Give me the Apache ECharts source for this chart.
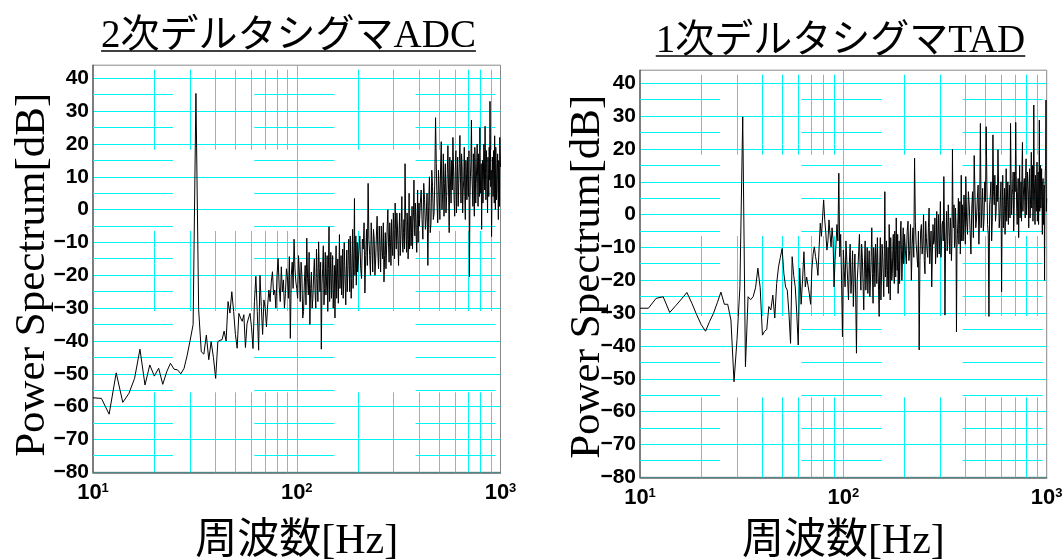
<!DOCTYPE html>
<html>
<head>
<meta charset="utf-8">
<script src="https://cdn.jsdelivr.net/npm/echarts@6/dist/echarts.min.js"></script>
<style>
  html, body { margin: 0; padding: 0; background: #fff; }
  #chart { width: 1064px; height: 559px; }
</style>
</head>
<body>
<div id="chart"></div>
<script>
// Power spectra of two delta-sigma converters, frequency bins in four ranges:
// 10–99 Hz every 1 Hz, 100–199 Hz every 1 Hz, 200–398 Hz every 2 Hz, 400–1000 Hz every 4 Hz.
const segStarts = [10, 100, 200, 400];
const segSteps = [1, 1, 2, 4];

// 2nd-order delta-sigma ADC [dB]
const adcLow = [
  -57.3, -57.5, -62.3, -49.7, -58.7, -56, -51.4, -42.5, -53.4, -47.3,
  -50.7, -48.3, -53.2, -49.4, -46.8, -48.6, -48.8, -50, -48.3, -44.3,
  -39.7, -35, 35.4, -30.5, -43.3, -44, -38.2, -45.7, -40.2, -45,
  -51.4, -40.2, -39.8, -39.6, -37, -40, -28, -31.5, -25, -31,
  -38, -42.2, -31.6, -33, -34, -32, -42, -34.8, -33, -31.6,
  -36, -42.3, -28, -20.3, -31, -42.8, -20, -29.5, -38, -27.5,
  -30, -35.7, -29, -24.5, -28, -22, -18.9, -26, -24.5, -30,
  -20, -14.8, -23.5, -28, -17.4, -25, -21.4, -30, -25.5, -18,
  -20.4, -27, -14.3, -39.2, -20, -16, -24, -9, -18, -22
];
const adcMid = [
  -24, -27, -14, -19, -28, -16, -20, -33, -31, -22,
  -17, -29, -8.7, -21, -26, -13, -35, -24, -19, -30,
  -27, -20, -15, -25, -30, -12, -21, -28, -9.8, -18,
  -25, -16, -42.5, -23, -18, -11, -29, -24, -13, -26,
  -22, -14, -31, -18, -5.2, -28, -20, -13, -27, -21,
  -14, -30, -24, -17, -33, -19, -11, -27, -21, -15,
  -28.5, -20, -7.6, -24, -19, -14, -26, -20, -12, -27,
  -22, -10, -17, -23, -29, -19, -12.3, -25, -20, -14,
  -9, -17, -25, -8, -15, -27, -21, -13, -6, -24,
  -18, -11, 3.4, -20, -16, -8, -23, -14, -10, -19
];
const adcHigh = [
  -17, -12, -8, -18, -21, -9, -12, -4, -25.4, -14,
  -6, -17, 8, -9, -14, -20, -4, -11, -19, -6,
  -9, -20, -15, -8, -2, -13, -18, -5, -11, -19,
  -5, -12, -15, -4, -22, -14, -7, -18, -12, -5,
  0, -10, -16, -4, -9, -17, -3, -11, -14, -1,
  -7, -15, 2, -6, -12, -1, -5, -11, -17, -6,
  -1, -14, -9, -4, 4, -10, -13, -7, -3, -12,
  14, 0, -8, -13, -1, -5, -15, -9, 5, -12,
  -6, -2, -11, -7, 1, -12, -4, -1, 9, -6,
  -8, 2, -2, -9, -13, -3, 6, -10, -3, 2
];
const adcTop = [
  -5, 2, 6, -3, -9, 8, 3, -6, -2, 5,
  -17, 1, 10, -7, -4, 12, 7, -3, -1, 9,
  28, 14, 2, -4, 12, 6, -3, 13, 20.7, 0,
  5, 17, -2, 8, 14, -1, 4, 11, 19.5, 6,
  -7, 16, 9, 2, 15, 6, 22, 13, 3, -2,
  12, 18, -1, 7, 16, 1, 8, 14, 22.6, 10,
  2, 17, 13, -1, 6, 9, 19, 4, -3, 15,
  11, 3, 16, 8, 4, 18, -20.4, 3, 10, 15,
  27.3, 11, 6, 1, 17, 9, -2, 19, 14, 2,
  8, 13, 20, 10, 1, 17, 12, 4, 25, 10,
  5, 14, -6, 8, 15, 2, 9, 20, 18, 6,
  25.4, 11, 3, 18, 14, 6, -1, 16, 11, 4,
  19, 9, 33, 21, 7, 12, -8.2, 5, 16, 9,
  4, 18, 12, 2, 22.5, 11, 0, 19, 14, 3,
  6, 12, 17, 8, -3, 15, 10, 1, 22, 17,
  13
];

// 1st-order delta-sigma TAD [dB]
const tadLow = [
  -28.5, -28.5, -25.5, -25, -29.8, -27.7, -25.7, -23.7, -27, -30.5,
  -33.5, -35.5, -32.5, -30, -26.8, -23.6, -27.3, -27.3, -32.1, -50.9,
  -38, -22, 29.8, -46.3, -25, -25.9, -25, -22.3, -16.3, -22.3,
  -36.7, -35.5, -35, -28, -29, -24.5, -31.5, -21, -15.9, -13,
  -10.3, -18, -22, -23, -30, -39.2, -12.8, -18.5, -22, -30,
  -39.7, -16.3, -27.3, -20, -11.3, -22, -19, -21.5, -24, -27.3,
  -16.8, -12, -9.8, -12.8, -15, -18.5, -10, -2.6, -6.6, -1,
  4.5, -1.6, -5.6, -10.8, -8, -1.6, -6, -9.8, -4, -7.6,
  -22, -14, -9, -3, -8, 12.6, -12.8, -6, -20, -37.2
];
const tadMid = [
  -10.8, -17, -22, -8, -14, -20, -26, -15, -9, -24,
  -19, -11, -28, -18, -12, -25, -42.2, -20, -16, -11,
  -6, -17, -23, -9, -13, -21, -29, -15, -8, -23,
  -18, -10, -24, -16, -11, -25, -20, -13, -4, -18,
  -27, -10, -14, -22, -9, -13, -21, -7, -16, -23,
  -31, -15, -7, -26, -19, -9, -12, -18, -25, -13,
  7, -19, -15, -8, -22, -17, -10, -24, -3, -12,
  -26, -7, -13, -20, -18, -11, -6, -15, -21, -5,
  -11, -19, -1, -12, -17, -6, -24, -16, -8, -21,
  -14, -5, -2, -11, -20, -15, -9, -4, -15, -12
];
const tadHigh = [
  -6, -11, -15, -5, -2, -14, -11, -3, -20, -9,
  -4, -13, 17.2, -2, -9, -12, -16, -5, -41.2, -14,
  -5, -3, -12, -9, 0, -14, -18, -2, -7, -11,
  -13, -4, 2, -15, -10, -5, -22, -12, -3, -9,
  -8, -1, -15, -10, 1, -13, -6, 0, -12, -7,
  4, -13, -9, -3, -2, -8, 11.6, -2, -30.6, -10,
  -5, 1, -11, -9, 3, -2, -7, -12, -1, -4,
  -14, -8, 19.9, -1, -4, 3, -10, -8, 2, -3,
  -35.7, -10, -6, -1, 5, -9, -3, 4, -12, -5,
  12, -8, -1, 3, -8, -5, 6, 1, -4, -9
];
const tadTop = [
  11.6, -2, -6, 7, 3, -5, -12, 2, 7, -7,
  18, 6, -4, -1, 5, 9, -9, 1, 27.8, -4,
  2, 8, -5, -1, 10, 4, 26.8, 9, -3, -6,
  -31, 3, 6, 10, -8, -2, 24.3, 7, 3, 12,
  -2, 1, 9, 4, 19.8, 9, -4, -1, 5, 10,
  -23.5, 2, 12, -4, 1, 8, -6, 3, 14, -2,
  4, 10, -3, 5, 9, -1, 27.8, 11, 0, 6,
  8, 13, -5, 2, 13, 7, 28.1, 12, 2, -3,
  7, 11, -7, 5, 15, -1, 4, 10, -2, 14,
  22, 1, 6, 9, 11, 4, -1, 12, 17, 0,
  5, 13, 9, 6, -4, 10, 14, -1, 3, 8,
  19, 2, 8, 15, -2, 4, 33.4, 11, 6, -3,
  12, 10, 1, 5, 16, -2, 7, 13, -3, 6,
  28.8, 1, 9, 15, 2, 7, 14, 4, -6, 10,
  11, -3, 4, 9, -20, 6, 13, 15, 34.9, 1,
  5
];

// Axis ranges and grid reference values
const freqRange = [10, 1000];
const levelRange = [-80, 44];
const minorFreqs = [20, 30, 40, 50, 60, 70, 80, 90, 200, 300, 400, 500, 600, 700, 800, 900];
const minorLevels = [-75, -65, -55, -45, -35, -25, -15, -5, 5, 15, 25, 35];

const titles = ['2次デルタシグマADC', '1次デルタシグマTAD'];
const yName = 'Power Spectrum[dB]';
const xName = '周波数[Hz]';

function buildSeries(parts) {
  const out = [];
  parts.forEach((vals, k) => {
    vals.forEach((v, i) => out.push([segStarts[k] + i * segSteps[k], v]));
  });
  return out;
}
const spectra = [
  buildSeries([adcLow, adcMid, adcHigh, adcTop]),
  buildSeries([tadLow, tadMid, tadHigh, tadTop])
];

const CYAN = '#00f4f4';
const MINOR_DASH = [80, 81.3];
const SERIF = '"Liberation Serif", "Noto Sans CJK JP", serif';
const SANS = '"Liberation Sans", Arial, sans-serif';

const gridBoxes = [
  { left: 93, top: 65.2, width: 407.5, height: 407.1 },
  { left: 640, top: 70.2, width: 406.7, height: 407.1 }
];
const yNameGaps = [39, 31];
const yNamePads = [[0, 12, 0, 0], [0, 6, 0, 0]];
const xNameGaps = [49, 44];
const titleCenters = [288.5, 840.5];
const titleBottoms = [56, 61];
const underlineYs = [51, 56];

const titleFont = '39px ' + SERIF;
function textWidth(text, font) {
  const ctx = document.createElement('canvas').getContext('2d');
  ctx.font = font;
  return ctx.measureText(text).width;
}
const crisp = v => Math.round(v - 0.5) + 0.5;

// Dashed minor grid: verticals start their dash pattern at the bottom edge,
// horizontals at the left edge.
function minorVertical(params, api) {
  const f = api.value(0);
  const b = api.coord([f, levelRange[0]]);
  const t = api.coord([f, levelRange[1]]);
  const x = crisp(b[0]);
  return { type: 'line', silent: true,
    shape: { x1: x, y1: b[1], x2: x, y2: t[1] },
    style: { stroke: CYAN, lineWidth: 1, lineDash: MINOR_DASH } };
}
function minorHorizontal(params, api) {
  const v = api.value(1);
  const l = api.coord([freqRange[0], v]);
  const r = api.coord([freqRange[1], v]);
  const y = crisp(l[1]);
  return { type: 'line', silent: true,
    shape: { x1: l[0], y1: y, x2: r[0], y2: y },
    style: { stroke: CYAN, lineWidth: 1, lineDash: MINOR_DASH } };
}

const chart = echarts.init(document.getElementById('chart'), null, { renderer: 'canvas' });

const series = [];
spectra.forEach((data, i) => {
  series.push({
    type: 'custom', xAxisIndex: i, yAxisIndex: i, z: 1, silent: true,
    renderItem: minorVertical,
    data: minorFreqs.map(f => [f, levelRange[0]])
  });
  series.push({
    type: 'custom', xAxisIndex: i, yAxisIndex: i, z: 1, silent: true,
    renderItem: minorHorizontal,
    data: minorLevels.map(v => [freqRange[0], v])
  });
  series.push({
    type: 'line', xAxisIndex: i, yAxisIndex: i, data: data, z: 3,
    showSymbol: false, symbol: 'none', silent: true,
    lineStyle: { color: '#000', width: 1 }
  });
});

const option = {
  backgroundColor: '#fff',
  animation: false,
  grid: gridBoxes.map(b => Object.assign({
    show: true, borderColor: '#888', borderWidth: 1, backgroundColor: 'transparent',
    containLabel: false, outerBoundsMode: 'none'
  }, b)),
  xAxis: gridBoxes.map((b, i) => ({
    type: 'log', logBase: 10, min: freqRange[0], max: freqRange[1], gridIndex: i,
    axisLine: { show: true, onZero: false, lineStyle: { color: '#666', width: 1.5 } },
    axisTick: { show: false },
    axisLabel: {
      margin: 9,
      formatter: v => '{b|10}{s|' + Math.round(Math.log10(v)) + '}',
      rich: {
        b: { fontFamily: SANS, fontWeight: 'bold', fontSize: 22, lineHeight: 24, color: '#000' },
        s: { fontFamily: SANS, fontWeight: 'bold', fontSize: 13, lineHeight: 14, padding: [0, 0, 10, 0], color: '#000' }
      }
    },
    splitLine: { show: true, showMinLine: false, showMaxLine: false, lineStyle: { color: CYAN, width: 1 } },
    name: xName, nameLocation: 'middle', nameGap: xNameGaps[i], nameMoveOverlap: false,
    nameTextStyle: { fontFamily: SERIF, fontSize: 42, color: '#000' }
  })),
  yAxis: gridBoxes.map((b, i) => ({
    type: 'value', min: levelRange[0], max: levelRange[1], interval: 10, gridIndex: i,
    axisLine: { show: true, onZero: false, lineStyle: { color: '#666', width: 1.5 } },
    axisTick: { show: false },
    axisLabel: {
      margin: 4, fontFamily: SANS, fontWeight: 'bold', fontSize: 21, color: '#000',
      formatter: v => (v % 10 === 0 ? String(v).replace('-', '\u2212') : '')
    },
    splitLine: { show: true, showMaxLine: false, lineStyle: { color: CYAN, width: 1 } },
    name: yName, nameLocation: 'middle', nameRotate: 90, nameGap: yNameGaps[i], nameMoveOverlap: false,
    nameTextStyle: { fontFamily: SERIF, fontSize: 43, color: '#000', padding: yNamePads[i] }
  })),
  series: series,
  graphic: titles.map((t, i) => {
    const w = textWidth(t, titleFont);
    return {
      type: 'group',
      children: [
        { type: 'text', x: titleCenters[i], y: titleBottoms[i],
          style: { text: t, font: titleFont, fill: '#000', textAlign: 'center', textVerticalAlign: 'bottom' } },
        { type: 'line',
          shape: { x1: titleCenters[i] - w / 2, y1: underlineYs[i], x2: titleCenters[i] + w / 2, y2: underlineYs[i] },
          style: { stroke: '#000', lineWidth: 1.6 } }
      ]
    };
  })
};

chart.setOption(option);
</script>
</body>
</html>
